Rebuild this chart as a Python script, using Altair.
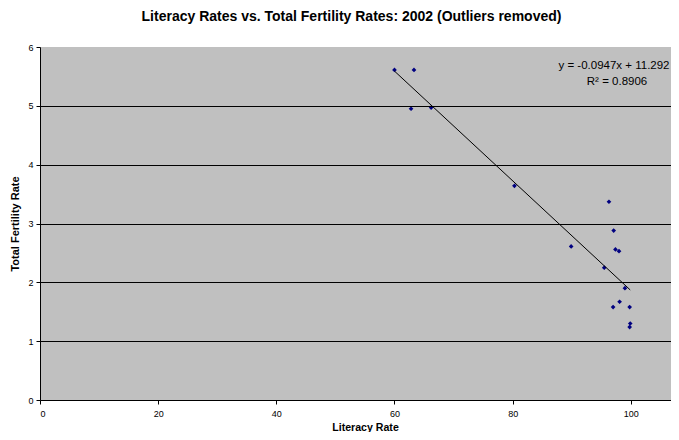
import altair as alt
import pandas as pd

literacy = [60.0, 63.3, 62.8, 66.2, 80.3, 89.9, 95.5, 96.3, 97.1, 97.4, 98.0, 99.0, 98.1, 97.0, 99.8, 99.9, 99.8]
fertility = [5.61, 5.61, 4.95, 4.97, 3.64, 2.61, 2.25, 3.37, 2.88, 2.56, 2.53, 1.90, 1.67, 1.58, 1.58, 1.30, 1.24]
eq_line1 = "y = -0.0947x + 11.292"
eq_line2 = "R² = 0.8906"

df = pd.DataFrame({"Literacy Rate": literacy, "Total Fertility Rate": fertility})
eq1_df = pd.DataFrame({"txt": [eq_line1]})
eq2_df = pd.DataFrame({"txt": [eq_line2]})

FONT = "Liberation Sans"
W, H = 631, 353

x = alt.X("Literacy Rate:Q",
          scale=alt.Scale(domain=[0, 106.8], nice=False, zero=True),
          axis=alt.Axis(values=[0, 20, 40, 60, 80, 100], grid=False, title="Literacy Rate",
                        domainColor="black", tickColor="black", tickSize=4, labelFontSize=9,
                        labelColor="black", labelFont=FONT, labelPadding=5,
                        titleFont=FONT, titleFontSize=10.6, titleFontWeight="bold",
                        titleColor="black", titlePadding=4, titleX=325, zindex=1))
y = alt.Y("Total Fertility Rate:Q",
          scale=alt.Scale(domain=[0, 6], nice=False),
          axis=alt.Axis(values=[0, 1, 2, 3, 4, 5, 6], grid=True, title="Total Fertility Rate",
                        gridColor="black",
                        gridOpacity={"condition": {"test": "datum.value == 6 || datum.value == 0", "value": 0}, "value": 1},
                        domainColor="black", tickColor="black", tickSize=4, labelFontSize=9,
                        labelColor="black", labelFont=FONT, labelPadding=3,
                        titleFont=FONT, titleFontSize=11, titleFontWeight="bold",
                        titleColor="black", titlePadding=7, zindex=1))

base = alt.Chart(df)
bg = alt.Chart(eq1_df).mark_rect(color="#C0C0C0").encode(
    x=alt.value(0), x2=alt.value(W), y=alt.value(0), y2=alt.value(H))
points = base.mark_point(shape="diamond", filled=True, color="#000080", size=22, opacity=1).encode(x=x, y=y)
trend = base.transform_regression("Literacy Rate", "Total Fertility Rate").mark_line(
    color="black", strokeWidth=1).encode(x=x, y=y)

txt1 = alt.Chart(eq1_df).mark_text(font=FONT, fontSize=11.5, color="black", align="center",
                                   baseline="middle").encode(text="txt:N", x=alt.value(574), y=alt.value(18.7))
txt2 = alt.Chart(eq2_df).mark_text(font=FONT, fontSize=11.5, color="black", align="center",
                                   baseline="middle").encode(text="txt:N", x=alt.value(577), y=alt.value(35.3))

chart = alt.layer(bg, points, trend, txt1, txt2).properties(
    width=W, height=H,
    padding={"left": 32, "top": 39, "right": 0, "bottom": 32},
    autosize=alt.AutoSizeParams(type="none"),
    title=alt.TitleParams("Literacy Rates vs. Total Fertility Rates: 2002 (Outliers removed)",
                          font=FONT, fontSize=14, fontWeight="bold", color="black",
                          anchor="middle", offset=19, dx=-4),
).configure_view(stroke=None).configure(background="white")

chart.save("out.html", embed_options={"renderer": "svg", "actions": False})
